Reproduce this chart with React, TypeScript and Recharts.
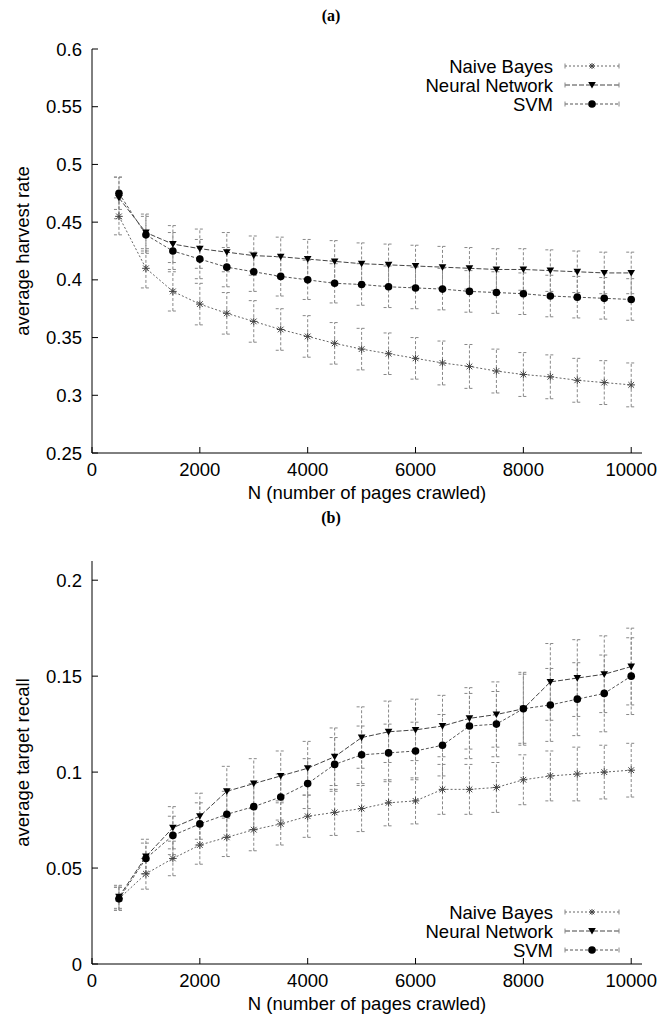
import React from 'react';
import { LineChart, Line, XAxis, YAxis, ErrorBar, Legend } from 'recharts';

const pages = [500, 1000, 1500, 2000, 2500, 3000, 3500, 4000, 4500, 5000, 5500, 6000, 6500, 7000, 7500, 8000, 8500, 9000, 9500, 10000];

// (a) average harvest rate
const harvestNB = [0.455, 0.410, 0.390, 0.379, 0.371, 0.364, 0.357, 0.351, 0.345, 0.340, 0.336, 0.332, 0.328, 0.325, 0.321, 0.318, 0.316, 0.313, 0.311, 0.309];
const harvestNBErr = [0.016, 0.017, 0.017, 0.018, 0.018, 0.018, 0.018, 0.018, 0.018, 0.018, 0.018, 0.018, 0.019, 0.019, 0.019, 0.019, 0.019, 0.019, 0.019, 0.019];
const harvestNN = [0.471, 0.441, 0.431, 0.427, 0.424, 0.421, 0.420, 0.418, 0.416, 0.414, 0.413, 0.412, 0.411, 0.410, 0.409, 0.409, 0.408, 0.407, 0.406, 0.406];
const harvestNNErr = [0.018, 0.016, 0.016, 0.017, 0.017, 0.017, 0.017, 0.017, 0.018, 0.018, 0.018, 0.018, 0.018, 0.018, 0.018, 0.018, 0.018, 0.018, 0.018, 0.018];
const harvestSVM = [0.475, 0.439, 0.425, 0.418, 0.411, 0.407, 0.403, 0.400, 0.397, 0.396, 0.394, 0.393, 0.392, 0.390, 0.389, 0.388, 0.386, 0.385, 0.384, 0.383];
const harvestSVMErr = [0.014, 0.016, 0.016, 0.017, 0.017, 0.017, 0.017, 0.017, 0.017, 0.018, 0.018, 0.018, 0.018, 0.018, 0.018, 0.018, 0.018, 0.018, 0.018, 0.018];

// (b) average target recall
const recallNB = [0.034, 0.047, 0.055, 0.062, 0.066, 0.070, 0.073, 0.077, 0.079, 0.081, 0.084, 0.085, 0.091, 0.091, 0.092, 0.096, 0.098, 0.099, 0.100, 0.101];
const recallNBErr = [0.006, 0.008, 0.009, 0.010, 0.010, 0.011, 0.011, 0.011, 0.012, 0.012, 0.012, 0.012, 0.013, 0.013, 0.013, 0.013, 0.013, 0.014, 0.014, 0.014];
const recallNN = [0.035, 0.056, 0.071, 0.077, 0.090, 0.094, 0.098, 0.102, 0.108, 0.118, 0.121, 0.122, 0.124, 0.128, 0.130, 0.133, 0.147, 0.149, 0.151, 0.155];
const recallNNErr = [0.006, 0.009, 0.011, 0.012, 0.013, 0.013, 0.013, 0.014, 0.015, 0.016, 0.016, 0.016, 0.016, 0.016, 0.017, 0.019, 0.020, 0.020, 0.020, 0.020];
const recallSVM = [0.034, 0.055, 0.067, 0.073, 0.078, 0.082, 0.087, 0.094, 0.104, 0.109, 0.110, 0.111, 0.114, 0.124, 0.125, 0.133, 0.135, 0.138, 0.141, 0.150];
const recallSVMErr = [0.006, 0.008, 0.010, 0.011, 0.012, 0.012, 0.012, 0.013, 0.014, 0.015, 0.015, 0.015, 0.016, 0.017, 0.017, 0.018, 0.019, 0.019, 0.020, 0.020];

const pageTicks = [0, 2000, 4000, 6000, 8000, 10000];
const harvestTicks = [0.25, 0.3, 0.35, 0.4, 0.45, 0.5, 0.55, 0.6];
const recallTicks = [0, 0.05, 0.1, 0.15, 0.2];
const seriesNames = ['Naive Bayes', 'Neural Network', 'SVM'];

const FONT = "'Liberation Sans', Arial, Helvetica, sans-serif";
const FS = 18.5;

const makeRows = (nb: number[], nbE: number[], nn: number[], nnE: number[], svm: number[], svmE: number[]) =>
  pages.map((n, i) => ({ n, nb: nb[i], nbErr: nbE[i], nn: nn[i], nnErr: nnE[i], svm: svm[i], svmErr: svmE[i] }));

const harvestData = makeRows(harvestNB, harvestNBErr, harvestNN, harvestNNErr, harvestSVM, harvestSVMErr);
const recallData = makeRows(recallNB, recallNBErr, recallNN, recallNNErr, recallSVM, recallSVMErr);

// markers
const Star = ({ cx, cy, s = 3.8 }: any) => (
  <g stroke="#444" strokeWidth={1}>
    <line x1={cx - s} x2={cx + s} y1={cy} y2={cy} />
    <line x1={cx} x2={cx} y1={cy - s} y2={cy + s} />
    <line x1={cx - s * 0.75} x2={cx + s * 0.75} y1={cy - s * 0.75} y2={cy + s * 0.75} />
    <line x1={cx - s * 0.75} x2={cx + s * 0.75} y1={cy + s * 0.75} y2={cy - s * 0.75} />
  </g>
);
const Tri = ({ cx, cy }: any) => (
  <polygon points={`${cx - 3.8},${cy - 3} ${cx + 3.8},${cy - 3} ${cx},${cy + 3.6}`} fill="#000" />
);
const Dot = ({ cx, cy }: any) => <circle cx={cx} cy={cy} r={3.8} fill="#000" />;

const markers = [Star, Tri, Dot];
const lineStyles = [
  { stroke: '#666', dash: '2 2' },
  { stroke: '#444', dash: '5 2' },
  { stroke: '#555', dash: '3 2' },
];

// ticks drawn inward, like the gnuplot frame
const BottomTick = ({ x, y, payload }: any) => (
  <g>
    <line x1={x} x2={x} y1={y} y2={y - 6} stroke="#000" />
    <text x={x} y={y + 23} textAnchor="middle" fontFamily={FONT} fontSize={FS} fill="#000">{payload.value}</text>
  </g>
);
const TopTick = ({ x, y }: any) => <line x1={x} x2={x} y1={y} y2={y + 6} stroke="#000" />;
const LeftTick = ({ x, y, payload }: any) => (
  <g>
    <line x1={x} x2={x + 6} y1={y} y2={y} stroke="#000" />
    <text x={x - 10} y={y + 6.5} textAnchor="end" fontFamily={FONT} fontSize={FS} fill="#000">{payload.value}</text>
  </g>
);
const RightTick = ({ x, y }: any) => <line x1={x} x2={x - 6} y1={y} y2={y} stroke="#000" />;

const renderLegend = () => (
  <svg width={270} height={60}>
    {seriesNames.map((name, i) => {
      const cy = 10 + i * 19;
      const M = markers[i];
      return (
        <g key={name}>
          <text x={173} y={cy + 6.5} textAnchor="end" fontFamily={FONT} fontSize={FS} fill="#000">{name}</text>
          <line x1={185} x2={239} y1={cy} y2={cy} stroke={lineStyles[i].stroke} strokeDasharray={lineStyles[i].dash} />
          <line x1={185} x2={185} y1={cy - 2.5} y2={cy + 2.5} stroke="#888" />
          <line x1={239} x2={239} y1={cy - 2.5} y2={cy + 2.5} stroke="#888" />
          <M cx={212} cy={cy} s={3} />
        </g>
      );
    })}
  </svg>
);

interface PanelProps {
  data: any[];
  yDomain: [number, number];
  yTicks: number[];
  yTitle: string;
  height: number;
  top: number;
  xAxisHeight: number;
  legendTop: number;
}

const Panel = ({ data, yDomain, yTicks, yTitle, height, top, xAxisHeight, legendTop }: PanelProps) => (
  <LineChart width={662} height={height} data={data} margin={{ top, right: 20, bottom: 0, left: 0 }}>
    <XAxis
      dataKey="n"
      type="number"
      domain={[0, 10200]}
      ticks={pageTicks}
      interval={0}
      height={xAxisHeight}
      tickSize={0}
      tickMargin={0}
      tickLine={false}
      tick={BottomTick}
      axisLine={{ stroke: '#000' }}
      label={(p: any) => (
        <text x={p.viewBox.x + p.viewBox.width / 2} y={p.viewBox.y + 46} textAnchor="middle" fontFamily={FONT} fontSize={FS} fill="#000">
          N (number of pages crawled)
        </text>
      )}
    />
    <XAxis
      xAxisId="t"
      orientation="top"
      dataKey="n"
      type="number"
      domain={[0, 10200]}
      ticks={pageTicks}
      interval={0}
      height={0}
      tickSize={0}
      tickMargin={0}
      tickLine={false}
      tick={TopTick}
      axisLine={{ stroke: '#000' }}
    />
    <YAxis
      type="number"
      domain={yDomain}
      ticks={yTicks}
      interval={0}
      allowDataOverflow
      width={92}
      tickSize={0}
      tickMargin={0}
      tickLine={false}
      tick={LeftTick}
      axisLine={{ stroke: '#000' }}
      label={(p: any) => {
        const cy = p.viewBox.y + p.viewBox.height / 2;
        return (
          <text x={29} y={cy} transform={`rotate(-90, 29, ${cy})`} textAnchor="middle" fontFamily={FONT} fontSize={FS} fill="#000">
            {yTitle}
          </text>
        );
      }}
    />
    <YAxis
      yAxisId="r"
      orientation="right"
      type="number"
      domain={yDomain}
      ticks={yTicks}
      interval={0}
      allowDataOverflow
      width={0}
      tickSize={0}
      tickMargin={0}
      tickLine={false}
      tick={RightTick}
      axisLine={{ stroke: '#000' }}
    />
    <Legend
      layout="horizontal"
      verticalAlign="middle"
      align="center"
      content={renderLegend}
      wrapperStyle={{ position: 'absolute', left: 380, top: legendTop, width: 270, height: 60 }}
    />
    {['nb', 'nn', 'svm'].map((key, i) => {
      const M = markers[i];
      return (
        <Line
          key={key}
          name={seriesNames[i]}
          dataKey={key}
          type="linear"
          stroke={lineStyles[i].stroke}
          strokeWidth={1}
          strokeDasharray={lineStyles[i].dash}
          dot={(p: any) => <M key={`${key}-${p.index}`} cx={p.cx} cy={p.cy} />}
          activeDot={false}
          isAnimationActive={false}
        >
          <ErrorBar dataKey={`${key}Err`} direction="y" width={5} stroke="#888" strokeWidth={1} strokeDasharray="3 2" isAnimationActive={false} />
        </Line>
      );
    })}
  </LineChart>
);

const captionStyle: React.CSSProperties = {
  position: 'absolute',
  left: 0,
  width: 662,
  textAlign: 'center',
  fontFamily: "'Liberation Serif', 'DejaVu Serif', serif",
  fontWeight: 'bold',
  fontSize: 16,
  lineHeight: '32px',
};

export default function App() {
  return (
    <div style={{ position: 'absolute', left: 0, top: 0, width: 662, height: 1026, background: '#fff' }}>
      <div style={{ ...captionStyle, top: 0 }}>(a)</div>
      <div style={{ position: 'absolute', left: 0, top: 0 }}>
        <Panel data={harvestData} yDomain={[0.25, 0.6]} yTicks={harvestTicks} yTitle="average harvest rate" height={512} top={49} xAxisHeight={59} legendTop={56} />
      </div>
      <div style={{ ...captionStyle, top: 502 }}>(b)</div>
      <div style={{ position: 'absolute', left: 0, top: 520 }}>
        <Panel data={recallData} yDomain={[0, 0.21]} yTicks={recallTicks} yTitle="average target recall" height={506} top={41} xAxisHeight={62} legendTop={382} />
      </div>
    </div>
  );
}
